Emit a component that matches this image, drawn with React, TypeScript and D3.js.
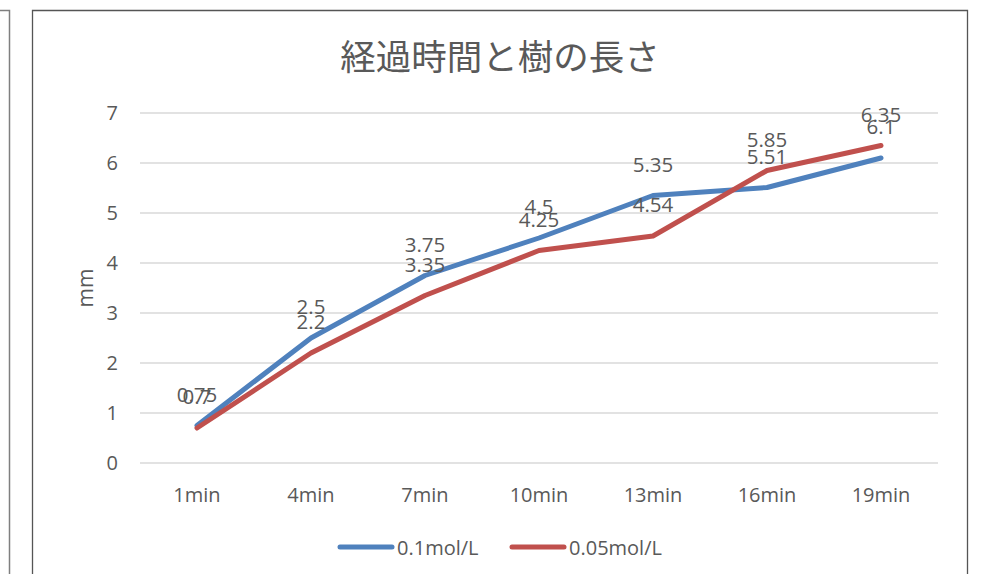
import React from "react";
import * as d3 from "d3";

const categories = ["1min", "4min", "7min", "10min", "13min", "16min", "19min"];
const seriesNames = ["0.1mol/L", "0.05mol/L"];
const series01 = [0.75, 2.5, 3.75, 4.5, 5.35, 5.51, 6.1];
const series005 = [0.7, 2.2, 3.35, 4.25, 4.54, 5.85, 6.35];
const yTicks = [0, 1, 2, 3, 4, 5, 6, 7];

const W = 985;
const H = 574;
const colors = ["#4F81BD", "#C0504D"];
const textColor = "#595959";
const font = "'Open Sans', 'Noto Sans', sans-serif";

export default function App() {
  const x = d3.scaleBand<string>().domain(categories).range([140, 938]);
  const y = d3.scaleLinear().domain([0, 7]).range([463, 113]);
  const cx = (c: string) => (x(c) as number) + x.bandwidth() / 2;
  const line = d3
    .line<number>()
    .x((_, i) => cx(categories[i]))
    .y((d) => y(d));
  const all = [series01, series005];

  return (
    <svg
      width={W}
      height={H}
      style={{ position: "absolute", left: 0, top: 0, display: "block" }}
      fontFamily={font}
    >
      <rect width={W} height={H} fill="#fff" />
      {/* neighbouring frame edge on the left */}
      <path d="M0,10.5 H9.5 V574" fill="none" stroke="#7f7f7f" strokeWidth={1.5} />
      {/* chart frame */}
      <path d="M32.5,580 V10.5 H967.5 V580" fill="none" stroke="#555" strokeWidth={1.3} />

      <text x={500} y={70} textAnchor="middle" fontSize={35.5} fill={textColor}
        fontFamily="'Noto Sans CJK JP', sans-serif">
        経過時間と樹の長さ
      </text>

      {yTicks.map((t) => (
        <g key={t}>
          <line x1={140} x2={938} y1={y(t)} y2={y(t)} stroke="#d9d9d9" strokeWidth={1.3} />
          <text x={118} y={y(t)} dy="0.36em" textAnchor="end" fontSize={20} fill={textColor}>
            {t}
          </text>
        </g>
      ))}

      {categories.map((c) => (
        <text key={c} x={cx(c)} y={502} textAnchor="middle" fontSize={20} fill={textColor}>
          {c}
        </text>
      ))}

      <text
        transform={`translate(93,${y(3.5)}) rotate(-90)`}
        textAnchor="middle"
        fontSize={21}
        fill={textColor}
      >
        mm
      </text>

      {all.map((s, k) => (
        <path
          key={k}
          d={line(s) as string}
          fill="none"
          stroke={colors[k]}
          strokeWidth={5}
          strokeLinejoin="round"
          strokeLinecap="round"
        />
      ))}

      {all.map((s, k) =>
        s.map((v, i) => (
          <text
            key={`${k}-${i}`}
            x={cx(categories[i])}
            y={y(v) - 24}
            textAnchor="middle"
            fontSize={20.5}
            fill={textColor}
          >
            {String(v)}
          </text>
        ))
      )}

      {/* legend */}
      {seriesNames.map((n, k) => {
        const lx = k === 0 ? 340 : 512;
        return (
          <g key={n}>
            <line x1={lx} x2={lx + 52} y1={547} y2={547} stroke={colors[k]} strokeWidth={5} strokeLinecap="round" />
            <text x={lx + 57} y={548} dy="0.36em" fontSize={20} fill={textColor}>
              {n}
            </text>
          </g>
        );
      })}
    </svg>
  );
}
